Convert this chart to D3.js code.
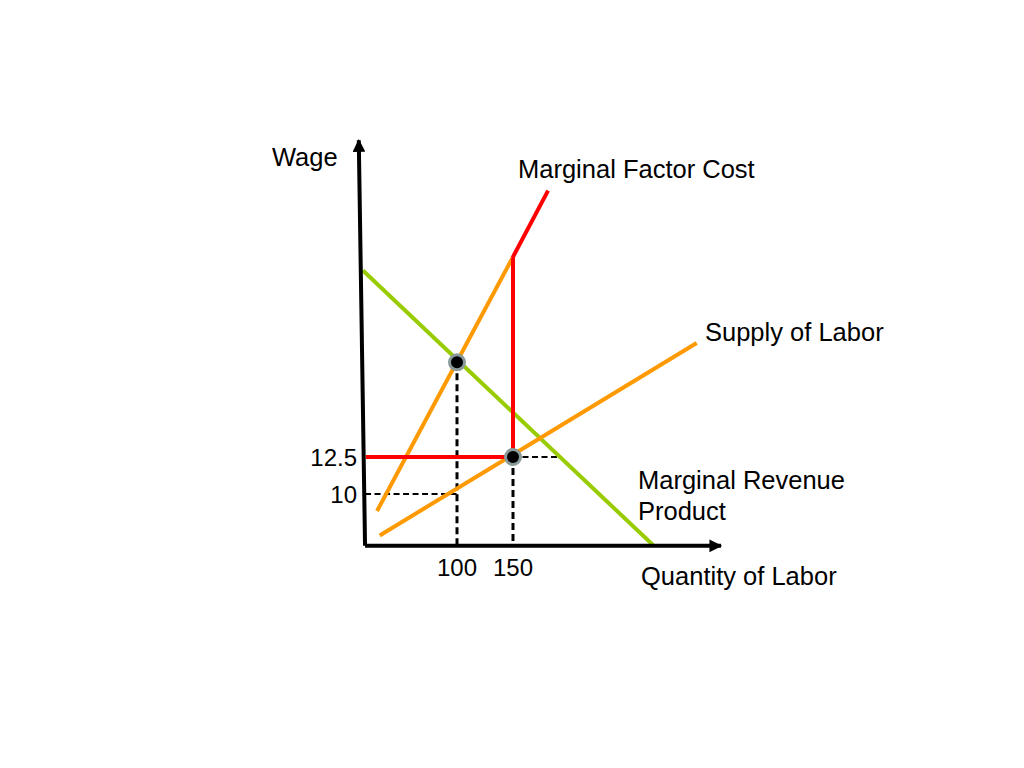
<!DOCTYPE html>
<html><head><meta charset="utf-8">
<script src="https://cdn.jsdelivr.net/npm/d3@7"></script>
<style>body{margin:0;background:#fff}svg{display:block}text{font-family:"Liberation Sans",Arial,sans-serif;fill:#000}</style>
</head><body>
<svg id="c" width="1024" height="768"></svg>
<script>
// Data (schematic units: quantity of labor, wage)
const xTicks = [100, 150];
const xTickLabels = ["100", "150"];
const yTicks = [10, 12.5];
const yTickLabels = ["10", "12.5"];
const mrpCurve = [[16, 25.1], [275, 6.55]];
const supplyCurve = [[31, 7.2], [314, 20.2]];
const mfcLower = [[28.6, 8.85], [149.5, 25.95]];
const mfcUpper = [[149.5, 25.95], [181.3, 30.5]];
const wageLine = [[18.6, 12.5], [143, 12.5]];
const mfcDrop = [[150, 12.5], [150, 25.95]];
const eqPoints = [[100, 18.9], [150, 12.5]];
const vGuides = [
  [[100, 18.9], [100, 6.5]],
  [[150, 12.5], [150, 6.5]]
];
const hGuides = [
  [[150, 12.5], [189.3, 12.5]],
  [[17.9, 10], [100, 10]]
];
const yAxisLine = [[17.9, 6.5], [12.3, 33.9]];
const xAxisLine = [[17.9, 6.5], [335.7, 6.5]];

const svg = d3.select("#c");
const x = d3.scaleLinear().domain([100, 150]).range([457, 513]);
const y = d3.scaleLinear().domain([10, 12.5]).range([494, 457]);
const line = d3.line().x(d => x(d[0])).y(d => y(d[1]));

const defs = svg.append("defs");
defs.append("marker").attr("id", "arr").attr("viewBox", "0 0 10 10")
  .attr("refX", 9).attr("refY", 5).attr("markerWidth", 3.2).attr("markerHeight", 3.2)
  .attr("markerUnits", "strokeWidth").attr("orient", "auto")
  .append("path").attr("d", "M0,0 L10,5 L0,10 z").attr("fill", "#000");

// guides
svg.selectAll(".gv").data(vGuides).join("path")
  .attr("d", line).attr("stroke", "#000").attr("stroke-width", 3)
  .attr("stroke-dasharray", "7,4").attr("fill", "none");
svg.selectAll(".gh").data(hGuides).join("path")
  .attr("d", line).attr("stroke", "#000").attr("stroke-width", 2)
  .attr("stroke-dasharray", "6,3.5").attr("fill", "none");

// curves
svg.append("path").attr("d", line(mrpCurve)).attr("stroke", "#99CC00").attr("stroke-width", 4).attr("fill", "none");
svg.append("path").attr("d", line(supplyCurve)).attr("stroke", "#FF9900").attr("stroke-width", 4).attr("fill", "none");
svg.append("path").attr("d", line(mfcLower)).attr("stroke", "#FF9900").attr("stroke-width", 4).attr("fill", "none");
svg.append("path").attr("d", line(mfcUpper)).attr("stroke", "#FF0000").attr("stroke-width", 4).attr("fill", "none");
svg.append("path").attr("d", line(mfcDrop)).attr("stroke", "#FF0000").attr("stroke-width", 4).attr("fill", "none");
svg.append("path").attr("d", line(wageLine)).attr("stroke", "#FF0000").attr("stroke-width", 4).attr("fill", "none");

// axes
svg.append("path").attr("d", line(yAxisLine)).attr("stroke", "#000").attr("stroke-width", 4)
  .attr("fill", "none").attr("marker-end", "url(#arr)");
svg.append("path").attr("d", line(xAxisLine)).attr("stroke", "#000").attr("stroke-width", 4)
  .attr("fill", "none").attr("marker-end", "url(#arr)");

// points
svg.selectAll(".pt").data(eqPoints).join("circle")
  .attr("cx", d => x(d[0])).attr("cy", d => y(d[1])).attr("r", 7.5)
  .attr("fill", "#000").attr("stroke", "#8a9a9a").attr("stroke-width", 3);

// tick labels
svg.selectAll(".xt").data(xTicks).join("text")
  .attr("x", d => x(d)).attr("y", 576).attr("text-anchor", "middle")
  .attr("font-size", 24).text((d, i) => xTickLabels[i]);
svg.selectAll(".yt").data(yTicks).join("text")
  .attr("x", 357).attr("y", d => y(d) + 9).attr("text-anchor", "end")
  .attr("font-size", 24).text((d, i) => yTickLabels[i]);

// labels
const labels = [
  {t: "Wage", x: 272, y: 166},
  {t: "Marginal Factor Cost", x: 518, y: 178},
  {t: "Supply of Labor", x: 705, y: 341},
  {t: "Marginal Revenue", x: 638, y: 489},
  {t: "Product", x: 638, y: 520},
  {t: "Quantity of Labor", x: 641, y: 585}
];
svg.selectAll(".lb").data(labels).join("text")
  .attr("x", d => d.x).attr("y", d => d.y).attr("font-size", 25.5).text(d => d.t);
</script>
</body></html>
